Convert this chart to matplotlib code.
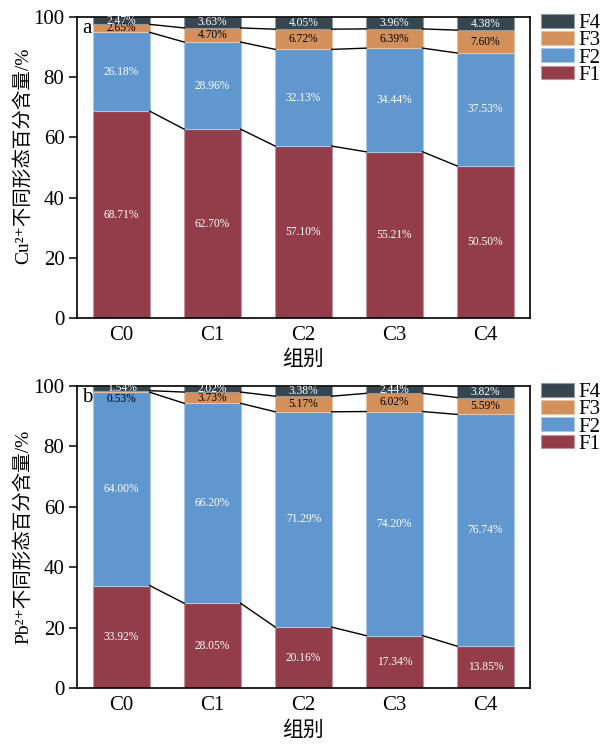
import numpy as np
import matplotlib
matplotlib.use("Agg")
import matplotlib.pyplot as plt
from matplotlib.patches import Patch
from matplotlib.colors import to_rgb

plt.rcParams['font.family'] = ['Liberation Serif', 'DejaVu Serif', 'Noto Sans CJK SC']
plt.rcParams['axes.unicode_minus'] = False

groups = ['C0', 'C1', 'C2', 'C3', 'C4']
fractions = ['F1', 'F2', 'F3', 'F4']

# Cu2+ fractions (%)
cu_f1 = [68.71, 62.70, 57.10, 55.21, 50.50]
cu_f2 = [26.18, 28.96, 32.13, 34.44, 37.53]
cu_f3 = [2.65, 4.70, 6.72, 6.39, 7.60]
cu_f4 = [2.47, 3.63, 4.05, 3.96, 4.38]

# Pb2+ fractions (%)
pb_f1 = [33.92, 28.05, 20.16, 17.34, 13.85]
pb_f2 = [64.00, 66.20, 71.29, 74.20, 76.74]
pb_f3 = [0.53, 3.73, 5.17, 6.02, 5.59]
pb_f4 = [1.54, 2.02, 3.38, 2.44, 3.82]

colors = ['#933d4a', '#6097cf', '#d4905a', '#36454e']
text_colors = ['white', 'white', 'black', 'white']


def lighten(c, amt=0.45):
    r, g, b = to_rgb(c)
    return (r + (1 - r) * amt, g + (1 - g) * amt, b + (1 - b) * amt)


def panel(ax, series, ylabel, letter, label_y):
    x = np.arange(len(groups))
    width = 0.62
    bottom = np.zeros(len(groups))
    tops = []
    for k, vals in enumerate(series):
        vals = np.array(vals)
        ax.bar(x, vals, width, bottom=bottom, color=colors[k],
               edgecolor=lighten(colors[k]), linewidth=0.8, zorder=2)
        for i, v in enumerate(vals):
            if v < 1.0:
                y, va = bottom[i] - 0.4, 'top'
            else:
                y, va = bottom[i] + v / 2, 'center'
            ax.text(x[i], y, f'{v:.2f}%', ha='center', va=va,
                    color=text_colors[k], fontsize=8.3, zorder=4)
        bottom = bottom + vals
        tops.append(bottom.copy())
    # connectors between adjacent bars at each cumulative boundary
    for cum in tops[:-1]:
        for i in range(len(groups) - 1):
            ax.plot([x[i] + width / 2, x[i + 1] - width / 2],
                    [cum[i], cum[i + 1]], color='black', lw=1.0, zorder=3)

    ax.set_xlim(-0.49, 4.49)
    ax.set_ylim(0, 100)
    ax.set_xticks(x)
    ax.set_xticklabels(groups, fontsize=15)
    ax.set_yticks(np.arange(0, 101, 20))
    ax.tick_params(axis='y', direction='out', length=6, width=1.1, labelsize=15, pad=3)
    ax.tick_params(axis='x', direction='in', length=5, width=1.1, pad=6)
    for s in ax.spines.values():
        s.set_linewidth(1.2)
    ax.set_xlabel('组别', fontsize=15, labelpad=4)
    ax.set_ylabel(ylabel, fontsize=14)
    ax.yaxis.set_label_coords(-0.099, label_y)
    ax.text(0.012, 0.994, letter, transform=ax.transAxes, ha='left', va='top',
            fontsize=15, zorder=5)

    handles = [Patch(facecolor=colors[k], edgecolor=lighten(colors[k]), linewidth=0.8,
                     label=fractions[k]) for k in range(3, -1, -1)]
    ax.legend(handles=handles, loc='upper left', bbox_to_anchor=(1.024, 1.01),
              frameon=False, fontsize=15, handlelength=1.6, handleheight=0.65,
              handletextpad=0.2, labelspacing=-0.1, borderaxespad=0,
              borderpad=0)


fig = plt.figure(figsize=(6.09, 7.45), dpi=100)
ax1 = fig.add_axes([0.1264, 0.5732, 0.7438, 0.404])
ax2 = fig.add_axes([0.1264, 0.0765, 0.7438, 0.4054])

panel(ax1, [cu_f1, cu_f2, cu_f3, cu_f4], 'Cu²⁺不同形态百分含量/%', 'a', 0.54)
panel(ax2, [pb_f1, pb_f2, pb_f3, pb_f4], 'Pb²⁺不同形态百分含量/%', 'b', 0.50)

fig.savefig('out.png', dpi=100)
